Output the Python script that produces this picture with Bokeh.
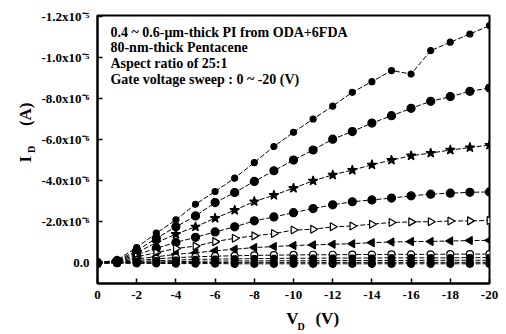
import numpy as np
from bokeh.plotting import figure
from bokeh.models import Range1d, FixedTicker, CustomJSTickFormatter, Label, LinearAxis
from bokeh.embed import file_html
from bokeh.resources import INLINE

# Drain voltage (V)
vd = [0, -1, -2, -3, -4, -5, -6, -7, -8, -9, -10, -11, -12, -13, -14, -15, -16, -17, -18, -19, -20]

# Drain current in units of 1e-6 A, one list per gate voltage
id_vg_m20 = [0, -0.15, -0.75, -1.45, -2.10, -2.86, -3.48, -4.13, -4.89, -5.67, -6.36, -7.01, -7.64, -8.31, -8.83, -9.37, -9.20, -10.34, -10.75, -11.15, -11.56]
id_vg_m18 = [0, -0.12, -0.60, -1.20, -1.76, -2.29, -2.94, -3.43, -3.97, -4.49, -5.01, -5.50, -6.03, -6.40, -6.81, -7.17, -7.53, -7.87, -8.10, -8.36, -8.52]
id_vg_m16 = [0, -0.10, -0.50, -0.99, -1.40, -1.76, -2.18, -2.57, -2.99, -3.30, -3.64, -4.00, -4.29, -4.52, -4.78, -5.01, -5.22, -5.35, -5.50, -5.62, -5.74]
id_vg_m14 = [0, -0.08, -0.40, -0.72, -1.00, -1.25, -1.51, -1.76, -2.05, -2.24, -2.45, -2.65, -2.83, -2.98, -3.07, -3.16, -3.27, -3.35, -3.40, -3.44, -3.46]
id_vg_m12 = [0, -0.06, -0.30, -0.50, -0.70, -0.82, -1.04, -1.20, -1.32, -1.43, -1.60, -1.64, -1.76, -1.80, -1.89, -1.97, -2.00, -2.01, -2.04, -2.05, -2.07]
id_vg_m10 = [0, -0.04, -0.20, -0.30, -0.42, -0.50, -0.59, -0.67, -0.75, -0.80, -0.85, -0.88, -0.91, -0.94, -0.99, -1.02, -1.04, -1.05, -1.07, -1.09, -1.10]
id_vg_m8 = [0, -0.03, -0.12, -0.20, -0.26, -0.30, -0.33, -0.35, -0.37, -0.38, -0.39, -0.40, -0.40, -0.41, -0.41, -0.42, -0.42, -0.42, -0.43, -0.43, -0.43]
id_vg_m6 = [0, -0.02, -0.07, -0.11, -0.14, -0.17, -0.19, -0.20, -0.21, -0.22, -0.23, -0.23, -0.24, -0.24, -0.24, -0.25, -0.25, -0.25, -0.25, -0.26, -0.26]
id_vg_m4 = [0, -0.01, -0.03, -0.05, -0.07, -0.08, -0.09, -0.10, -0.10, -0.11, -0.11, -0.11, -0.12, -0.12, -0.12, -0.12, -0.12, -0.13, -0.13, -0.13, -0.13]
id_vg_m2 = [0, 0.00, -0.01, -0.01, -0.02, -0.02, -0.02, -0.03, -0.03, -0.03, -0.03, -0.03, -0.03, -0.03, -0.03, -0.03, -0.03, -0.03, -0.03, -0.03, -0.03]
id_vg_0 = [0, 0.01, 0.02, 0.02, 0.03, 0.03, 0.03, 0.04, 0.04, 0.04, 0.04, 0.04, 0.04, 0.04, 0.04, 0.04, 0.04, 0.04, 0.04, 0.04, 0.04]
unit = 1e-6

x_ticks = [0, -2, -4, -6, -8, -10, -12, -14, -16, -18, -20]
x_tick_labels = ["0", "-2", "-4", "-6", "-8", "-10", "-12", "-14", "-16", "-18", "-20"]
y_ticks = [-12e-6, -10e-6, -8e-6, -6e-6, -4e-6, -2e-6, 0.0]
y_tick_labels = ["-1.2x10\u207b\u2075", "-1.0x10\u207b\u2075", "-8.0x10\u207b\u2076", "-6.0x10\u207b\u2076",
                 "-4.0x10\u207b\u2076", "-2.0x10\u207b\u2076", "0.0"]

notes = ["0.4 ~ 0.6-\u03bcm-thick PI from ODA+6FDA",
         "80-nm-thick Pentacene",
         "Aspect ratio of 25:1",
         "Gate voltage sweep : 0 ~ -20 (V)"]

FONT = "Liberation Serif"
NB = "\u00a0"

p = figure(width=506, height=334, output_backend="svg", toolbar_location=None,
           x_range=Range1d(0, -20), y_range=Range1d(1.0e-6, -1.205e-5),
           min_border_left=97, min_border_right=17, min_border_top=15, min_border_bottom=51)
p.background_fill_color = "white"
p.border_fill_color = "white"
p.grid.visible = False
p.outline_line_color = "black"
p.outline_line_width = 2

for ax in (p.xaxis[0], p.yaxis[0]):
    ax.axis_line_width = 2
    ax.major_tick_in = 5
    ax.major_tick_out = 0
    ax.minor_tick_line_color = None
    ax.major_tick_line_width = 1.5
    ax.major_label_text_font = FONT
    ax.major_label_text_font_style = "bold"
    ax.major_label_text_font_size = "13px"
    ax.major_label_text_color = "black"
    ax.axis_label_text_font = FONT
    ax.axis_label_text_font_style = "bold"
    ax.axis_label_text_color = "black"

p.xaxis.ticker = FixedTicker(ticks=x_ticks)
p.xaxis.major_label_standoff = 7
p.xaxis.formatter = CustomJSTickFormatter(args=dict(vals=x_ticks, labs=x_tick_labels), code="""
for (let i = 0; i < vals.length; i++) { if (Math.abs(vals[i] - tick) < 1e-9) return labs[i]; }
return '';
""")
p.yaxis.ticker = FixedTicker(ticks=y_ticks)
p.yaxis.major_label_standoff = 8
p.yaxis.formatter = CustomJSTickFormatter(args=dict(vals=y_ticks, labs=y_tick_labels), code="""
for (let i = 0; i < vals.length; i++) { if (Math.abs(vals[i] - tick) < 1e-15) return labs[i]; }
return '';
""")

# x title: "V (V)" on main axis, subscript "D" on an extra label-only axis
p.xaxis.axis_label = NB * 9 + "V" + NB * 4 + "(V)"
p.xaxis.axis_label_text_font_size = "17px"
p.xaxis.axis_label_standoff = 7
xsub = LinearAxis(ticker=FixedTicker(ticks=[]), axis_line_color=None, major_tick_line_color=None,
                  minor_tick_line_color=None, axis_label=NB * 6 + "D", axis_label_standoff=-10,
                  axis_label_text_font=FONT, axis_label_text_font_style="bold",
                  axis_label_text_font_size="10px", axis_label_text_color="black")
p.add_layout(xsub, "below")

# y title: subscript "D" on main axis, "I (A)" on an outer label-only axis
p.yaxis.axis_label = "D"
p.yaxis.axis_label_text_font_size = "10px"
p.yaxis.axis_label_standoff = 2
ytit = LinearAxis(ticker=FixedTicker(ticks=[]), axis_line_color=None, major_tick_line_color=None,
                  minor_tick_line_color=None, axis_label=NB * 8 + "I" + NB * 7 + "(A)",
                  axis_label_standoff=-12, axis_label_text_font=FONT, axis_label_text_font_style="bold",
                  axis_label_text_font_size="17px", axis_label_text_color="black")
p.add_layout(ytit, "left")

series = [
    (id_vg_m20, "circle", 6, "black", 0.0),
    (id_vg_m18, "circle", 8, "black", 0.0),
    (id_vg_m16, "star", 10, "black", 0.0),
    (id_vg_m14, "circle", 8, "black", 0.0),
    (id_vg_m12, "triangle", 8, "white", -np.pi / 2),
    (id_vg_m10, "triangle", 8, "black", np.pi / 2),
    (id_vg_m8, "circle", 7, "white", 0.0),
    (id_vg_m6, "hex", 7, "black", 0.0),
    (id_vg_m4, "square", 6, "black", 0.0),
    (id_vg_m2, "diamond", 8, "black", 0.0),
    (id_vg_0, "circle", 7, "black", 0.0),
]

for vals, marker, size, fill, ang in series:
    ys = [v * unit for v in vals]
    p.line(vd, ys, line_color="black", line_width=1, line_dash="5 2")
    p.scatter(vd, ys, marker=marker, size=size, fill_color=fill, line_color="black",
              line_width=1.2, angle=ang)

# text notes inside the plot (data coords)
note_y = [-11.22e-6, -10.47e-6, -9.72e-6, -8.95e-6]
for t, yy in zip(notes, note_y):
    p.add_layout(Label(x=-0.66, y=yy, text=t, text_font=FONT, text_font_style="bold",
                       text_font_size="14px", text_baseline="middle", text_color="black"))

open("out.html", "w").write(file_html(p, INLINE))
